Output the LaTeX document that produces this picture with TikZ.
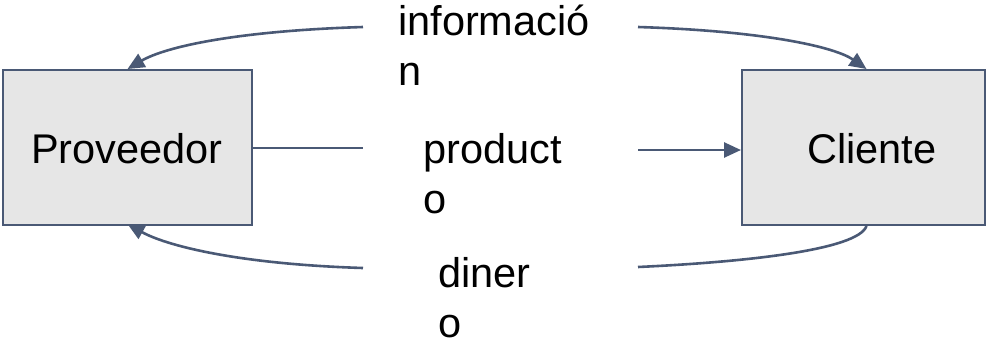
\documentclass[tikz,border=0pt]{standalone}
\usepackage{fontspec}
\setmainfont{Liberation Sans}
\usetikzlibrary{arrows.meta}
\definecolor{linec}{RGB}{74,89,117}
\definecolor{boxfill}{RGB}{230,230,230}
\tikzset{
  entity/.style={draw=linec, fill=boxfill, line width=2pt, rectangle, inner sep=0pt},
  lbl/.style={inner sep=0pt, align=left, anchor=base west, font=\fontsize{41.5}{50}\selectfont},
  conn/.style={draw=linec, line width=2.6pt},
  arr/.style={conn, -{Triangle[length=17pt,width=15pt]}}
}
\begin{document}
\begin{tikzpicture}[x=1pt,y=-1pt]
\useasboundingbox (0,0) rectangle (987,346);
\node[entity, minimum width=249pt, minimum height=155pt] (prov) at (127.5,147.5) {};
\node[anchor=base] (provtxt) at (127,163) {\fontsize{41.5}{50}\selectfont Proveedor};
\node[entity, minimum width=243pt, minimum height=155pt] (clie) at (863.5,147.5) {};
\node[anchor=base] (clietxt) at (872,163) {\fontsize{41.5}{50}\selectfont Cliente};

\node[lbl] (info) at (398,85) {informació\\n};
\node[lbl] (prod) at (423,213) {product\\o};
\node[lbl] (din) at (438,337) {diner\\o};

\coordinate (infoL) at (363,27);
\coordinate (infoR) at (638,27);
\coordinate (prodL) at (363,148);
\coordinate (prodR) at (638,150);
\coordinate (dinL) at (363,268);
\coordinate (dinR) at (638,267);

\draw[arr] (infoL) .. controls (235,31) and (165,47) .. (prov.north);
\draw[arr] (infoR) .. controls (765,31) and (835,47) .. ([xshift=3pt]clie.north);
\draw[conn] (prov.east |- prodL) -- (prodL);
\draw[arr] (prodR) -- (clie.west |- prodR);
\draw[arr] (dinL) .. controls (235,264) and (165,245) .. ([yshift=2pt]prov.south);
\draw[conn] ([xshift=3pt]clie.south) .. controls (858,250) and (745,262) .. (dinR);
\end{tikzpicture}
\end{document}
